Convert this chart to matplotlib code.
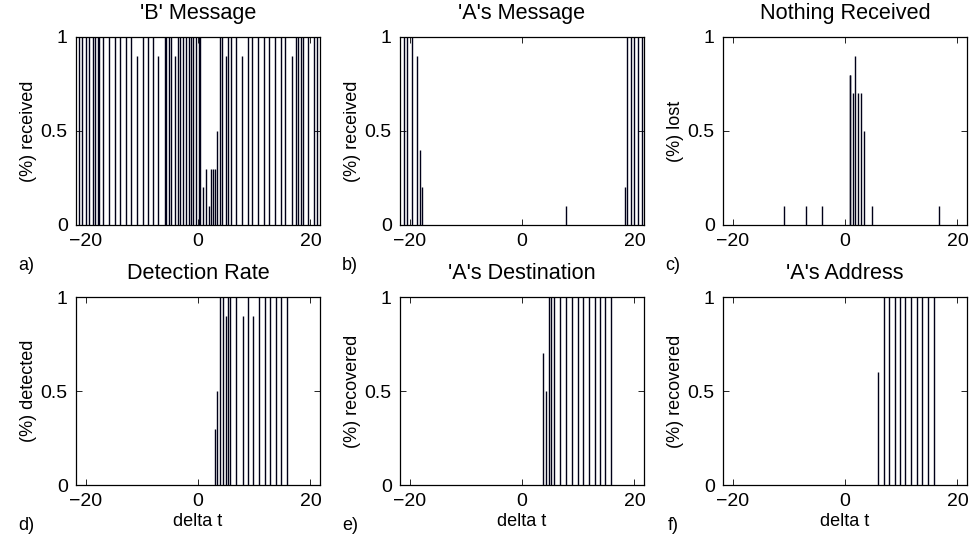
import numpy as np
import matplotlib
matplotlib.use('Agg')
import matplotlib.pyplot as plt

plt.rcParams['font.family'] = ['Liberation Sans', 'DejaVu Sans']
plt.rcParams['font.size'] = 13

# 'B' Message
a_x = [-21.25, -20.65, -19.85, -19.35, -18.75, -18.35, -17.85, -17.55, -16.85, -15.75,
       -14.75, -13.95, -12.85, -11.95, -10.85, -9.75, -8.85, -7.95, -7.05, -5.95,
       -5.65, -5.15, -4.75, -4.05, -3.55, -3.15, -2.65, -2.15, -1.65, -1.25,
       -0.85, -0.35, 0.1, 0.4, 0.84, 1.43, 1.9, 2.32, 2.73, 3.03,
       3.31, 3.95, 4.35, 4.95, 5.25, 5.85, 6.75, 7.85, 8.85, 9.65,
       10.65, 11.75, 12.65, 13.75, 14.75, 15.55, 16.75, 17.35, 17.85, 18.25,
       18.65, 19.55, 20.65, 21.15]
a_y = [1, 1, 1, 1, 1, 1, 1, 1, 1, 1,
       1, 1, 1, 1, 0.9, 1, 1, 1, 0.9, 1,
       1, 1, 1, 0.9, 1, 1, 1, 1, 1, 1,
       1, 1, 1, 1, 0.2, 0.3, 0.1, 0.3, 0.3, 0.3,
       0.5, 1, 1, 0.9, 1, 1, 1, 0.9, 1, 1,
       1, 1, 1, 1, 1, 1, 0.9, 1, 1, 1,
       1, 1, 1, 1]

# 'A's Message
b_x = [-21.0, -20.5, -19.6, -18.7, -18.1, -17.7, 7.88, 18.3, 18.75, 19.35, 19.93, 20.7, 21.4]
b_y = [1, 1, 1, 0.9, 0.4, 0.2, 0.1, 0.2, 1, 1, 1, 1, 1]

# Nothing Received
c_x = [-10.9, -7.0, -4.07, 0.85, 0.95, 1.44, 1.85, 2.33, 2.8, 3.34, 4.87, 16.7]
c_y = [0.1, 0.1, 0.1, 0.8, 0.8, 0.7, 0.9, 0.7, 0.7, 0.5, 0.1, 0.1]

# Detection Rate
d_x = [2.97, 3.38, 3.98, 4.45, 4.98, 5.34, 5.76, 6.83, 7.95, 8.97,
       9.79, 10.85, 11.86, 12.88, 13.8, 14.8, 15.84]
d_y = [0.3, 0.5, 1, 1, 0.9, 1, 1, 1, 0.9, 1,
       0.9, 1, 1, 1, 1, 1, 1]

# 'A's Destination
e_x = [3.8, 4.27, 4.87, 5.2, 5.76, 6.8, 7.8, 8.9, 9.9, 10.8, 11.9, 12.9, 13.9, 14.8, 15.9]
e_y = [0.7, 0.5, 1, 1, 1, 1, 1, 1, 1, 1, 1, 1, 1, 1, 1]

# 'A's Address
f_x = [5.9, 6.9, 7.8, 8.9, 9.76, 10.76, 11.8, 12.8, 13.7, 14.8, 15.8]
f_y = [0.6, 1, 1, 1, 1, 1, 1, 1, 1, 1, 1]

titles = ["'B' Message", "'A's Message", "Nothing Received",
          "Detection Rate", "'A's Destination", "'A's Address"]
ylabels = ["(%) received", "(%) received", "(%) lost",
           "(%) detected", "(%) recovered", "(%) recovered"]
letters = ["a)", "b)", "c)", "d)", "e)", "f)"]
xs = [a_x, b_x, c_x, d_x, e_x, f_x]
ys = [a_y, b_y, c_y, d_y, e_y, f_y]

W, H = 969, 537
fig = plt.figure(figsize=(W / 100, H / 100), dpi=100)

lefts = [76, 400, 723]
tops = [37, 297]
aw, ah = 244, 188

for i in range(6):
    r, c = divmod(i, 3)
    l = lefts[c]
    t = tops[r]
    ax = fig.add_axes([l / W, (H - t - ah) / H, aw / W, ah / H])
    ax.vlines(xs[i], 0, ys[i], colors='#000018', linewidth=1.0)
    ax.set_xlim(-21.7, 21.7)
    ax.set_ylim(0, 1)
    ax.set_xticks([-20, 0, 20])
    ax.set_yticks([0, 0.5, 1])
    ax.set_yticklabels(['0', '0.5', '1'])
    ax.tick_params(direction='in', top=True, right=True, length=4, width=0.6,
                   pad=6, labelsize=14)
    for s in ax.spines.values():
        s.set_linewidth(0.9)
    ax.set_title(titles[i], pad=13)
    ax.set_ylabel(ylabels[i])
    ax.yaxis.set_label_coords(-0.16, 0.5)
    if r == 1:
        ax.set_xlabel('delta t', labelpad=2)
    fig.text((l - 50) / W, 1 - (t + ah + 40) / H, letters[i], ha='center', va='center')

fig.savefig('out.png', dpi=100)
